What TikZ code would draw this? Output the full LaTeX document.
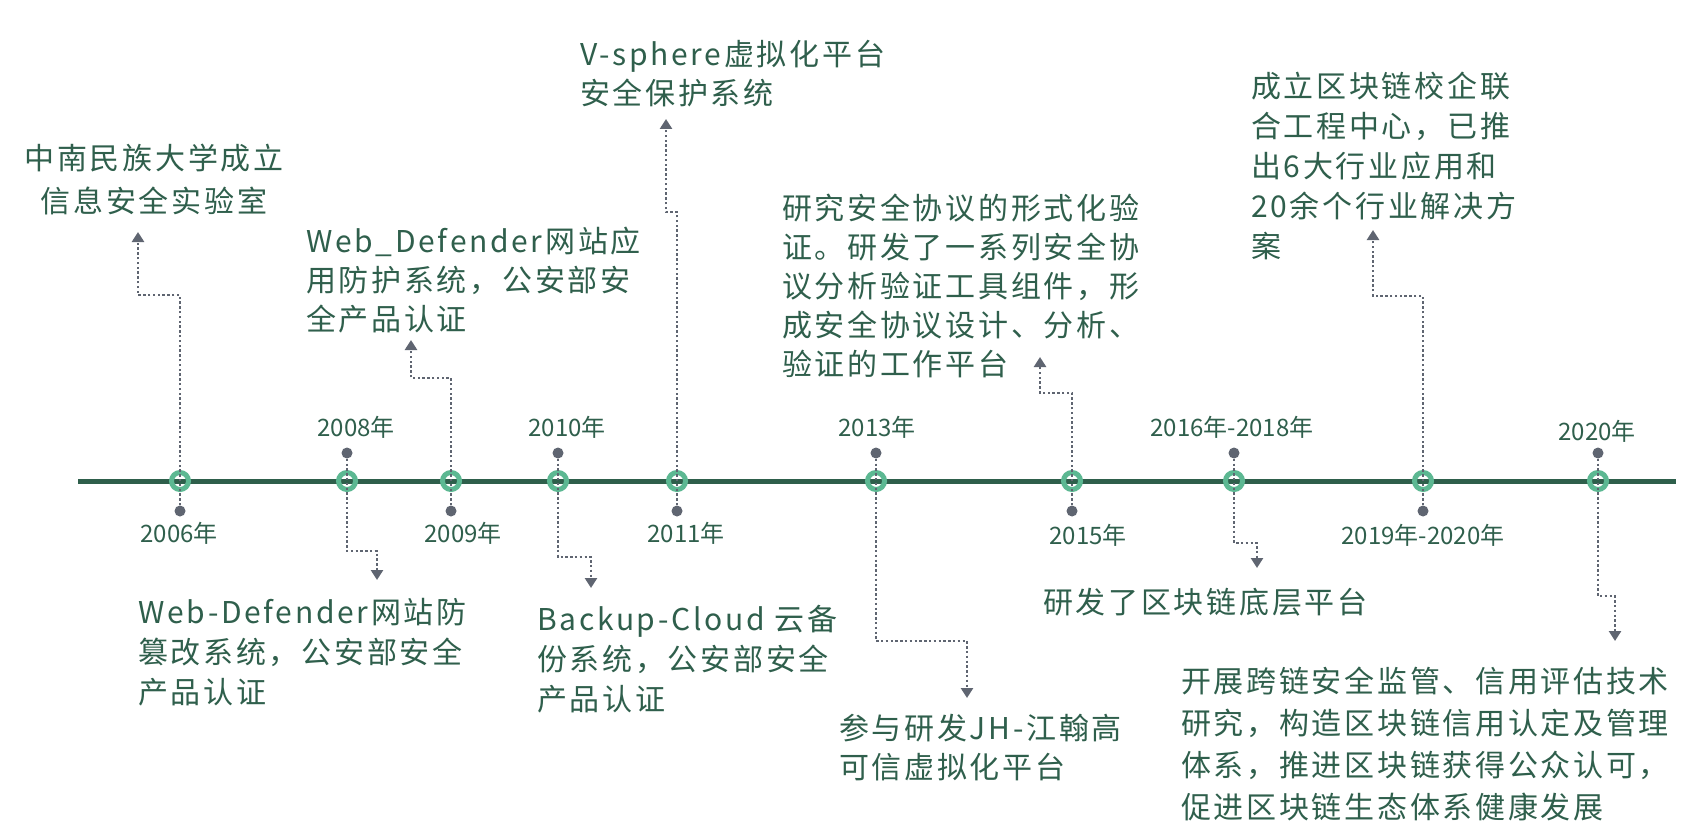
\documentclass[tikz,border=0pt]{standalone}
\usepackage{fontspec}
\setmainfont{Noto Sans CJK SC}
\newfontfamily\notefont[LetterSpace=9]{Noto Sans CJK SC}
\newfontfamily\yearfont{Noto Sans CJK SC}
\usetikzlibrary{arrows.meta}
\definecolor{lineGreen}{HTML}{2E5F4B}
\definecolor{ringGreen}{HTML}{5CB892}
\definecolor{txtGreen}{HTML}{2F5F4C}
\definecolor{dotGray}{HTML}{5F6571}

\begin{document}
\begin{tikzpicture}[x=1pt,y=-1pt,
  axis/.style={draw=lineGreen,line width=5pt},
  ring/.style={circle,draw=ringGreen,line width=5pt,minimum size=17pt,inner sep=0pt},
  yeardot/.style={circle,fill=dotGray,minimum size=11pt,inner sep=0pt},
  link/.style={draw=dotGray,line width=2.5pt,dash pattern=on 2.4pt off 2.4pt,-{Triangle[width=12pt,length=10pt]}},
  year/.style={text=txtGreen,font=\yearfont\fontsize{24}{28}\selectfont,inner sep=0pt},
  note/.style={text=txtGreen,font=\notefont\fontsize{30}{#1}\selectfont,align=left,anchor=north west,inner sep=0pt},
  note/.default=39]
  \fill[white] (0,0) rectangle (1705,840);
  \useasboundingbox (0,0) rectangle (1705,840);

  \coordinate (start) at (78,481);
  \coordinate (end) at (1676,481);
  \draw[axis] (start) -- (end);

  % rings on the axis
  \foreach \n/\x in {06/180,08/347,09/451,10/558,11/677,13/876,15/1072,16/1234,19/1423,20/1598}
    \node[ring] (r\n) at (\x,481) {};

  % dots, below and above
  \foreach \n/\x in {06/180,09/451,11/677,15/1072,19/1423}
    \node[yeardot] (d\n) at (\x,511) {};
  \foreach \n/\x in {08/347,10/558,13/876,16/1234,20/1598}
    \node[yeardot] (d\n) at (\x,453) {};

  % years
  \node[year] (y06) at (179,533) {2006年};
  \node[year] (y08) at (356,427) {2008年};
  \node[year] (y09) at (463,533) {2009年};
  \node[year] (y10) at (567,427) {2010年};
  \node[year] (y11) at (686,533) {2011年};
  \node[year] (y13) at (877,427) {2013年};
  \node[year] (y15) at (1088,535) {2015年};
  \node[year] (y16) at (1232,427) {2016年-2018年};
  \node[year] (y19) at (1423,535) {2019年-2020年};
  \node[year] (y20) at (1597,431) {2020年};

  % texts
  \node[note=43,align=center,anchor=north] (t06) at (154,144) {中南民族大学成立\\信息安全实验室};
  \node[note=40] (t08) at (138,598) {Web-Defender网站防\\篡改系统，公安部安全\\产品认证};
  \node[note] (t09) at (306,227) {Web\_Defender网站应\\用防护系统，公安部安\\全产品认证};
  \node[note=40] (t10) at (537,605) {Backup-Cloud 云备\\份系统，公安部安全\\产品认证};
  \node[note] (t11) at (580,40) {V-sphere虚拟化平台\\安全保护系统};
  \node[note] (t13) at (839,714) {参与研发JH-江翰高\\可信虚拟化平台};
  \node[note] (t15) at (782,194) {研究安全协议的形式化验\\证。研发了一系列安全协\\议分析验证工具组件，形\\成安全协议设计、分析、\\验证的工作平台};
  \node[note] (t16) at (1043,588) {研发了区块链底层平台};
  \node[note=40] (t19) at (1251,72) {成立区块链校企联\\合工程中心，已推\\出6大行业应用和\\20余个行业解决方\\案};
  \node[note=42] (t20) at (1181,667) {开展跨链安全监管、信用评估技术\\研究，构造区块链信用认定及管理\\体系，推进区块链获得公众认可，\\促进区块链生态体系健康发展};

  % elbows and arrow ends
  \coordinate (b06) at (138,295);  \coordinate (e06) at (138,232);
  \coordinate (b08) at (377,551);  \coordinate (e08) at (377,580);
  \coordinate (b09) at (411,378);  \coordinate (e09) at (411,340);
  \coordinate (b10) at (591,557);  \coordinate (e10) at (591,588);
  \coordinate (b11) at (666,212);  \coordinate (e11) at (666,119);
  \coordinate (b13) at (967,641);  \coordinate (e13) at (967,698);
  \coordinate (b15) at (1040,393); \coordinate (e15) at (1040,357);
  \coordinate (b16) at (1257,543); \coordinate (e16) at (1257,568);
  \coordinate (b19) at (1373,296); \coordinate (e19) at (1373,230);
  \coordinate (b20) at (1615,596); \coordinate (e20) at (1615,641);

  \foreach \n in {06,08,09,10,11,13,15,16,19,20}
    \draw[link] (d\n) |- (b\n) -- (e\n);
\end{tikzpicture}
\end{document}
